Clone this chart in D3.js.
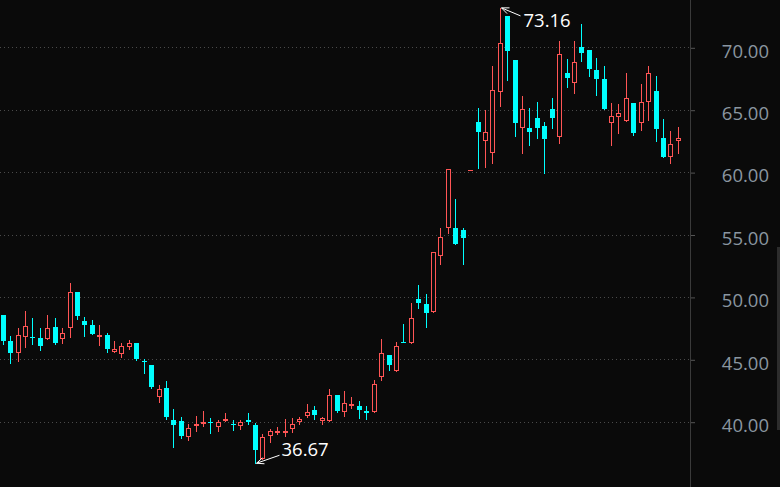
<!DOCTYPE html>
<html>
<head>
<meta charset="utf-8">
<script src="https://cdn.jsdelivr.net/npm/d3@7/dist/d3.min.js"></script>
<style>
html,body{margin:0;padding:0;background:#0a0a0a;overflow:hidden;}
svg{display:block;}
</style>
</head>
<body>
<svg id="chart" width="780" height="487"></svg>
<script>
// ---- data ----
const days = d3.range(1, 93).map(String);
const open = [48.55,46.47,45.53,46.81,46.78,46.71,46.65,47.59,46.65,47.48,50.39,48.07,47.75,46.76,46.95,45.61,45.40,46.01,46.31,44.86,
44.54,42.00,42.70,40.14,40.06,38.80,39.68,39.82,40.00,39.60,40.06,39.78,39.68,40.10,39.74,36.99,38.85,39.07,39.07,39.42,
39.95,40.48,40.94,40.08,40.08,42.14,40.80,41.26,41.26,40.86,40.80,43.56,45.34,44.09,46.38,46.28,49.81,49.41,48.81,53.30,
55.54,55.50,55.36,60.15,64.01,62.52,61.55,66.44,72.51,68.98,63.51,63.53,64.31,63.69,65.06,62.79,67.92,67.12,70.00,69.78,
68.18,67.46,63.96,64.44,64.12,65.51,63.96,65.59,66.50,62.71,61.19,62.52];
const high = [48.55,46.87,47.53,48.87,48.31,47.48,48.55,48.31,47.48,51.11,50.39,48.39,48.15,47.75,47.08,46.47,46.33,46.55,46.31,45.02,
44.54,42.94,43.26,41.02,40.38,39.82,40.46,40.86,40.30,40.14,40.70,40.14,40.14,40.72,39.87,39.01,39.42,39.55,40.19,40.27,
40.40,41.42,41.26,40.40,42.62,42.14,42.46,41.96,41.68,41.26,43.34,46.63,45.34,46.36,47.83,49.49,50.95,50.23,53.57,55.50,
60.22,57.85,55.50,60.15,65.11,64.98,68.50,73.16,72.51,69.00,66.10,65.11,65.62,64.04,65.91,70.49,69.04,70.49,71.86,69.78,
69.12,68.50,65.51,65.43,67.92,65.51,67.06,68.50,67.70,64.25,63.29,63.64];
const low = [46.23,44.68,44.89,46.01,46.23,45.75,46.65,46.25,46.33,46.81,48.20,46.89,47.05,46.15,45.61,45.61,45.21,45.80,44.94,43.93,
42.72,41.60,40.19,38.00,38.72,38.53,39.25,39.66,39.10,39.25,40.06,39.33,39.42,39.81,36.67,36.99,38.40,38.99,38.85,39.20,
39.82,40.40,40.22,39.82,40.08,40.80,40.48,41.12,40.32,40.22,40.80,43.34,44.14,44.09,46.36,46.28,49.09,47.61,48.81,52.61,
55.14,54.26,52.66,60.15,60.30,60.43,60.75,65.32,67.38,62.89,61.55,62.17,62.76,59.90,63.56,62.36,66.84,66.36,68.93,67.70,
66.18,65.06,62.17,63.16,64.12,62.97,63.37,64.17,62.52,61.19,60.70,61.55];
const close = [46.47,45.53,46.95,47.64,46.74,46.07,47.48,46.33,47.08,50.37,48.49,47.77,47.05,46.95,45.83,45.83,46.07,46.28,45.02,44.82,
42.80,42.60,40.40,39.74,38.85,39.50,39.82,39.98,39.95,39.95,40.22,39.70,39.95,40.00,37.73,38.75,39.25,39.25,39.25,39.82,
40.22,40.75,40.54,40.27,42.14,40.88,41.47,41.39,40.94,40.72,43.00,45.48,44.57,46.07,46.36,48.29,49.54,48.73,53.57,54.78,
60.22,54.26,54.74,60.15,63.24,63.19,66.58,70.32,69.73,63.96,65.03,63.24,63.56,62.68,64.36,69.44,67.56,68.80,69.52,68.23,
67.46,65.06,64.50,64.71,65.91,63.16,65.59,67.92,63.43,61.23,62.23,62.71];
const yTicks = [40, 45, 50, 55, 60, 65, 70];

// ---- styles ----
const BG = "#0a0a0a", UP = "#ff5555", DOWN = "#00ffff";
const FONT = "'Open Sans','Noto Sans',sans-serif";

const svg = d3.select("#chart");
svg.append("rect").attr("width", 780).attr("height", 487).attr("fill", BG);

const x = d3.scaleBand().domain(days).range([-0.41, 682.0]).paddingInner(0.33).paddingOuter(0.165);
const y = d3.scaleLinear().domain([40, 70]).range([421.7, 47.3]);

// grid
svg.append("g").selectAll("line").data(yTicks).join("line")
  .attr("x1", 0).attr("x2", 689)
  .attr("y1", d => Math.round(y(d)) + 0.5).attr("y2", d => Math.round(y(d)) + 0.5)
  .attr("stroke", "#4a4a4a").attr("stroke-width", 1).attr("stroke-dasharray", "1,3");

// right axis
const axisX = 690;
svg.append("line").attr("x1", axisX + 0.5).attr("x2", axisX + 0.5).attr("y1", 0).attr("y2", 487)
  .attr("stroke", "#3a3a3a");
const axis = d3.axisRight(y).tickValues(yTicks).tickFormat(d3.format(".2f")).tickSize(4).tickPadding(0);
const ag = svg.append("g").attr("transform", `translate(${axisX + 1},0.5)`).call(axis);
ag.select(".domain").remove();
ag.selectAll(".tick line").attr("stroke", "#555");
ag.selectAll(".tick text").attr("x", 78).attr("text-anchor", "end").attr("dy", "0.5em")
  .attr("fill", "#8a96a0").style("font-family", FONT).style("font-size", "18.5px");

// scrollbar hint
svg.append("rect").attr("x", 777).attr("y", 247).attr("width", 3).attr("height", 183).attr("fill", "#2c2c2c");

// candles
const data = days.map((d, i) => ({ d, o: open[i], h: high[i], l: low[i], c: close[i],
  up: close[i] > open[i] || (close[i] === open[i] && (i === 0 || close[i] >= close[i - 1])) }));

const g = svg.append("g").attr("shape-rendering", "crispEdges");
data.forEach(k => {
  const col = Math.floor(x(k.d) + x.bandwidth() / 2);
  const color = k.up ? UP : DOWN;
  const top = Math.round(y(Math.max(k.o, k.c)));
  const bot = Math.round(y(Math.min(k.o, k.c)));
  g.append("line").attr("x1", col + 0.5).attr("x2", col + 0.5)
    .attr("y1", Math.round(y(k.h))).attr("y2", Math.round(y(k.l)) + 1)
    .attr("stroke", color).attr("stroke-width", 1);
  if (k.up && bot - top >= 2) {
    g.append("rect").attr("x", col - 1.5).attr("y", top + 0.5).attr("width", 4).attr("height", bot - top - 1)
      .attr("fill", BG).attr("stroke", color).attr("stroke-width", 1);
  } else {
    g.append("rect").attr("x", col - 2).attr("y", top).attr("width", 5).attr("height", Math.max(1, bot - top))
      .attr("fill", color);
  }
});

// annotations for max high and min low
function arrow(px, py, ex, ey) {
  const a = Math.atan2(ey - py, ex - px), L = 8, s = 0.4;
  const ag2 = svg.append("g").attr("stroke", "#ffffff").attr("stroke-width", 1).attr("fill", "none");
  ag2.append("line").attr("x1", px).attr("y1", py).attr("x2", ex).attr("y2", ey);
  ag2.append("path").attr("d",
    `M${px + L * Math.cos(a - s)},${py + L * Math.sin(a - s)}L${px},${py}L${px + L * Math.cos(a + s)},${py + L * Math.sin(a + s)}`);
}
const iMax = d3.maxIndex(high), iMin = d3.minIndex(low);
{
  const px = Math.floor(x(days[iMax]) + x.bandwidth() / 2) + 0.5, py = y(high[iMax]);
  arrow(px + 1, py, px + 20, py + 8);
  svg.append("text").attr("x", px + 23).attr("y", py + 19).text(high[iMax].toFixed(2))
    .attr("fill", "#ffffff").style("font-family", FONT).style("font-size", "18.5px");
}
{
  const px = Math.floor(x(days[iMin]) + x.bandwidth() / 2) + 0.5, py = y(low[iMin]);
  arrow(px + 1, py, px + 24, py - 8);
  svg.append("text").attr("x", px + 26).attr("y", py - 7.5).text(low[iMin].toFixed(2))
    .attr("fill", "#ffffff").style("font-family", FONT).style("font-size", "18.5px");
}
</script>
</body>
</html>
